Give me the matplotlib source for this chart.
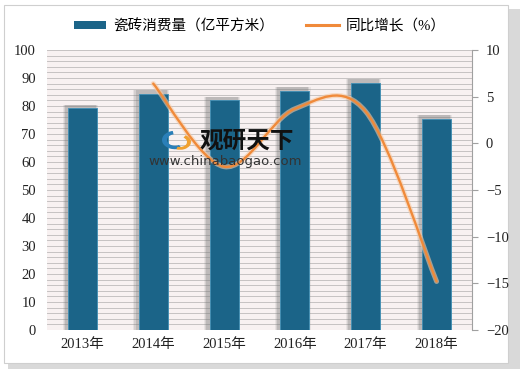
import matplotlib
matplotlib.use("Agg")
import matplotlib.pyplot as plt
import numpy as np
from matplotlib.path import Path
from matplotlib.patches import PathPatch, Rectangle, Wedge
from matplotlib.lines import Line2D
from matplotlib.patches import Patch

years = ["2013年", "2014年", "2015年", "2016年", "2017年", "2018年"]
consumption = [79.2, 84.3, 82.0, 85.4, 88.2, 75.4]
growth_years_idx = [1, 2, 3, 4, 5]
growth = [6.4, -2.5, 3.7, 3.4, -14.8]
left_ticks = [0, 10, 20, 30, 40, 50, 60, 70, 80, 90, 100]
right_ticks = [-20, -15, -10, -5, 0, 5, 10]

BAR = "#1b6488"
ORANGE = "#f08a3a"
FONT = ["Liberation Serif", "Noto Sans CJK SC"]

fig = plt.figure(figsize=(5.2, 3.69), dpi=100)
fig.patch.set_facecolor("white")

# outer frame with shadow
W, H = 520, 369
fig.patches.append(Rectangle((8 / W, 0), 512 / W, 360 / H, transform=fig.transFigure,
                             facecolor="#d9d9d9", edgecolor="none", zorder=-3))
fig.patches.append(Rectangle((4 / W, 6 / H), 504 / W, 358 / H, transform=fig.transFigure,
                             facecolor="white", edgecolor="#cfcfcf", lw=0.8, zorder=-2))

ax = fig.add_axes([47 / W, (H - 330) / H, (472 - 47) / W, (330 - 50) / H])
ax.set_facecolor("#f8f1f1")
x = np.arange(len(years))

# bar shadows (soft)
for dw, a in [(0.50, 0.12), (0.47, 0.18), (0.44, 0.25)]:
    ax.bar(x - 0.03, [v + 1.3 for v in consumption], width=dw, color="#7a7a7a", alpha=a,
           zorder=2, linewidth=0)
ax.bar(x, consumption, width=0.41, color=BAR, edgecolor="#3f8fb5", linewidth=0.6, zorder=3)

ax.set_ylim(0, 100)
ax.set_xlim(-0.5, len(years) - 0.5)
ax.set_yticks(left_ticks)
ax.set_yticks(np.arange(0, 101, 2), minor=True)
ax.yaxis.grid(True, which="both", color="#c6c2c2", lw=0.7, zorder=0)
ax.set_axisbelow(True)
ax.tick_params(axis="y", which="both", length=0, pad=8)
ax.tick_params(axis="x", length=0, pad=6)
ax.set_xticks(x)
ax.set_xticklabels(years)
for lab in ax.get_xticklabels() + ax.get_yticklabels():
    lab.set_family(FONT)
    lab.set_fontsize(10.5)
    lab.set_color("#222222")
for s in ax.spines.values():
    s.set_visible(False)

ax2 = ax.twinx()
ax2.set_ylim(-20, 10)
ax2.set_yticks(right_ticks)
ax2.set_yticklabels([str(t).replace("-", "\u2212") for t in right_ticks])
for s in ["left", "top", "bottom"]:
    ax2.spines[s].set_visible(False)
ax2.spines["right"].set_color("#a0a0a0")
ax2.spines["right"].set_linewidth(0.8)
ax2.tick_params(axis="y", direction="out", length=4, color="#a0a0a0", pad=6)
for lab in ax2.get_yticklabels():
    lab.set_family(FONT)
    lab.set_fontsize(10.5)
    lab.set_color("#222222")

# smoothed line (Catmull-Rom style Bezier through data points)
px = np.array(growth_years_idx, dtype=float)
py = np.array(growth, dtype=float)
n = len(px)
verts = [(px[0], py[0])]
codes = [Path.MOVETO]
for i in range(n - 1):
    p0 = np.array([px[max(i - 1, 0)], py[max(i - 1, 0)]])
    p1 = np.array([px[i], py[i]])
    p2 = np.array([px[i + 1], py[i + 1]])
    p3 = np.array([px[min(i + 2, n - 1)], py[min(i + 2, n - 1)]])
    c1 = p1 + (p2 - p0) / 6.0
    c2 = p2 - (p3 - p1) / 6.0
    verts += [tuple(c1), tuple(c2), tuple(p2)]
    codes += [Path.CURVE4] * 3
path = Path(verts, codes)
ax2.add_patch(PathPatch(path, facecolor="none", edgecolor="#f7c9a3", lw=3.6, alpha=0.6,
                        zorder=4, capstyle="round"))
ax2.add_patch(PathPatch(path, facecolor="none", edgecolor=ORANGE, lw=1.7, zorder=5,
                        capstyle="round"))

# watermark
fig.text(200 / W, 1 - 141 / H, "观研天下", fontsize=17, fontweight="bold", color="#111111",
         family=["Noto Sans CJK SC"], va="center", ha="left", zorder=10)
fig.text(225 / W, 1 - 161 / H, "www.chinabaogao.com", fontsize=9.5, color="#333333",
         family=["DejaVu Sans"], va="center", ha="center", zorder=10)
fig.patches.append(Wedge((175 / W, 1 - 140 / H), 13 / W, 100, 300, width=5 / W,
                         transform=fig.transFigure, facecolor="#2a7fb8", zorder=10))
fig.patches.append(Wedge((180 / W, 1 - 142 / H), 11 / W, 250, 60, width=4 / W,
                         transform=fig.transFigure, facecolor="#f0a030", zorder=10))

# legend
handles = [Patch(facecolor=BAR, edgecolor="none"),
           Line2D([0], [0], color=ORANGE, lw=2.2)]
leg = fig.legend(handles, ["瓷砖消费量（亿平方米）", "同比增长（%）"], loc="center",
                 bbox_to_anchor=(0.5, 1 - 26 / H), ncol=2, frameon=False,
                 prop={"family": FONT, "size": 10.5}, handlelength=2.2, handleheight=0.5,
                 columnspacing=2.2, handletextpad=0.5)

fig.savefig("out.png", dpi=100)
